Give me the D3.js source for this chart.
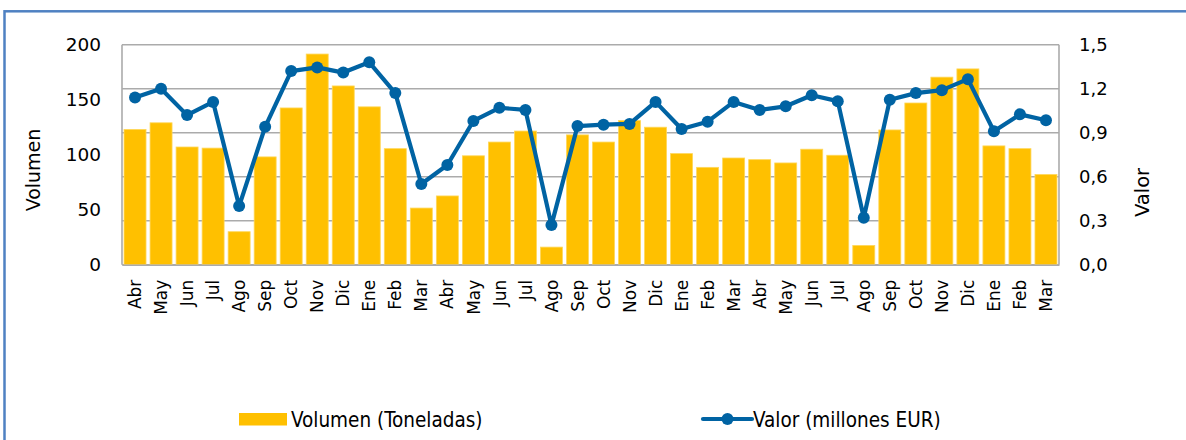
<!DOCTYPE html>
<html>
<head>
<meta charset="utf-8">
<script src="https://cdn.jsdelivr.net/npm/d3@7/dist/d3.min.js"></script>
<style>
  html, body { margin: 0; padding: 0; background: #fff; }
  svg { display: block; }
  text { font-family: "DejaVu Sans", sans-serif; fill: #000; }
</style>
</head>
<body>
<svg id="chart" width="1186" height="440"></svg>
<script>
const months = ["Abr","May","Jun","Jul","Ago","Sep","Oct","Nov","Dic","Ene","Feb","Mar",
                "Abr","May","Jun","Jul","Ago","Sep","Oct","Nov","Dic","Ene","Feb","Mar",
                "Abr","May","Jun","Jul","Ago","Sep","Oct","Nov","Dic","Ene","Feb","Mar"];
const volumen = [123, 129, 107, 106, 30, 98, 142.5, 191.5, 162.5, 143.5, 105.5, 51.5,
                 62.5, 99, 111.5, 121.5, 16, 118, 111.5, 131, 125, 101,
                 88.5, 97, 95.5, 92.5, 105, 99.5, 17.5, 122.5, 147, 170.5, 178, 108, 105.5, 82];
const valor = [1.14, 1.20, 1.02, 1.11, 0.40, 0.94, 1.32, 1.345, 1.31, 1.38, 1.17, 0.55,
               0.68, 0.98, 1.07, 1.055, 0.27, 0.945, 0.955, 0.96, 1.11, 0.925,
               0.975, 1.11, 1.055, 1.08, 1.155, 1.115, 0.32, 1.125, 1.17, 1.19, 1.265, 0.91, 1.025, 0.985];
const leftTicks = [0, 50, 100, 150, 200];
const rightTicks = [0, 0.3, 0.6, 0.9, 1.2, 1.5];
const seriesNames = ["Volumen (Toneladas)", "Valor (millones EUR)"];
const axisTitles = ["Volumen", "Valor"];

const barColor = "#FFC000";
const lineColor = "#0063A3";
const gridColor = "#ABABAB";

const svg = d3.select("#chart");
const plotL = 122, plotR = 1059, plotT = 44.7, plotB = 264.7;

// outer frame
svg.append("rect").attr("x", 4.5).attr("y", 11.3).attr("width", 1200).attr("height", 460)
  .attr("fill", "none").attr("stroke", "#4F81C2").attr("stroke-width", 2.5);

const x = d3.scaleBand().domain(d3.range(months.length)).range([plotL, plotR])
  .paddingInner(0.155).paddingOuter(0.078);
const yL = d3.scaleLinear().domain([0, 200]).range([plotB, plotT]);
const yR = d3.scaleLinear().domain([0, 1.5]).range([plotB, plotT]);

// gridlines (from right axis)
svg.append("g").selectAll("line").data(rightTicks).join("line")
  .attr("x1", plotL).attr("x2", plotR)
  .attr("y1", d => yR(d)).attr("y2", d => yR(d))
  .attr("stroke", gridColor).attr("stroke-width", 1.6);
// plot border verticals
svg.append("line").attr("x1", plotL).attr("x2", plotL).attr("y1", plotT).attr("y2", plotB)
  .attr("stroke", gridColor).attr("stroke-width", 1.6);
svg.append("line").attr("x1", plotR).attr("x2", plotR).attr("y1", plotT).attr("y2", plotB)
  .attr("stroke", gridColor).attr("stroke-width", 1.6);

// bars
svg.append("g").selectAll("rect").data(volumen).join("rect")
  .attr("x", (d, i) => x(i)).attr("width", x.bandwidth())
  .attr("y", d => yL(d)).attr("height", d => yL(0) - yL(d))
  .attr("fill", barColor).attr("stroke", "#FFD75A").attr("stroke-width", 0.8);

// line
const line = d3.line().x((d, i) => x(i) + x.bandwidth() / 2).y(d => yR(d));
svg.append("path").datum(valor).attr("d", line)
  .attr("fill", "none").attr("stroke", lineColor).attr("stroke-width", 4.2)
  .attr("stroke-linejoin", "round");
svg.append("g").selectAll("circle").data(valor).join("circle")
  .attr("cx", (d, i) => x(i) + x.bandwidth() / 2).attr("cy", d => yR(d))
  .attr("r", 6).attr("fill", lineColor);

// left axis
const axL = d3.axisLeft(yL).tickValues(leftTicks).tickSize(0).tickPadding(0).tickFormat(d3.format("d"));
const gL = svg.append("g").attr("transform", `translate(101,0)`).call(axL);
gL.select(".domain").remove();
gL.selectAll("text").style("font-size", "18.5px").style("font-family", "DejaVu Sans").attr("fill", "#000").attr("dy", "0.34em");

// right axis
const fmt = d => d3.format(".1f")(d).replace(".", ",");
const axR = d3.axisRight(yR).tickValues(rightTicks).tickSize(0).tickPadding(0).tickFormat(fmt);
const gR = svg.append("g").attr("transform", `translate(1079,0)`).call(axR);
gR.select(".domain").remove();
gR.selectAll("text").style("font-size", "18px").style("font-family", "DejaVu Sans").attr("fill", "#000").attr("dy", "0.34em");

// bottom axis labels
const axB = d3.axisBottom(x).tickSize(0).tickPadding(0).tickFormat(i => months[i]);
const gB = svg.append("g").attr("transform", `translate(0,${plotB})`).call(axB);
gB.select(".domain").attr("stroke", gridColor).attr("stroke-width", 1.6);
gB.selectAll("text")
  .style("font-size", "17px").style("font-family", "DejaVu Sans").attr("fill", "#000")
  .attr("text-anchor", "end")
  .attr("transform", "rotate(-90)")
  .attr("x", -15).attr("y", 0).attr("dy", "0.36em");

// axis titles
svg.append("text").text(axisTitles[0])
  .attr("transform", "translate(40,170) rotate(-90)")
  .attr("text-anchor", "middle").style("font-size", "19px");
svg.append("text").text(axisTitles[1])
  .attr("transform", "translate(1149,192.5) rotate(-90)")
  .attr("text-anchor", "middle").style("font-size", "19.5px");

// legend
const lg = svg.append("g");
lg.append("rect").attr("x", 239).attr("y", 413).attr("width", 48).attr("height", 12.5).attr("fill", barColor);
lg.append("text").text(seriesNames[0]).attr("x", 291).attr("y", 419.5).attr("dy", "0.35em")
  .style("font-family", "'DejaVu Sans Condensed', 'DejaVu Sans', sans-serif").style("font-size", "20.5px");
lg.append("line").attr("x1", 703).attr("x2", 752).attr("y1", 419).attr("y2", 419)
  .attr("stroke", lineColor).attr("stroke-width", 4.2).attr("stroke-linecap", "round");
lg.append("circle").attr("cx", 727.5).attr("cy", 419).attr("r", 6).attr("fill", lineColor);
lg.append("text").text(seriesNames[1]).attr("x", 753).attr("y", 419.5).attr("dy", "0.35em")
  .style("font-family", "'DejaVu Sans Condensed', 'DejaVu Sans', sans-serif").style("font-size", "20.5px");
</script>
</body>
</html>
